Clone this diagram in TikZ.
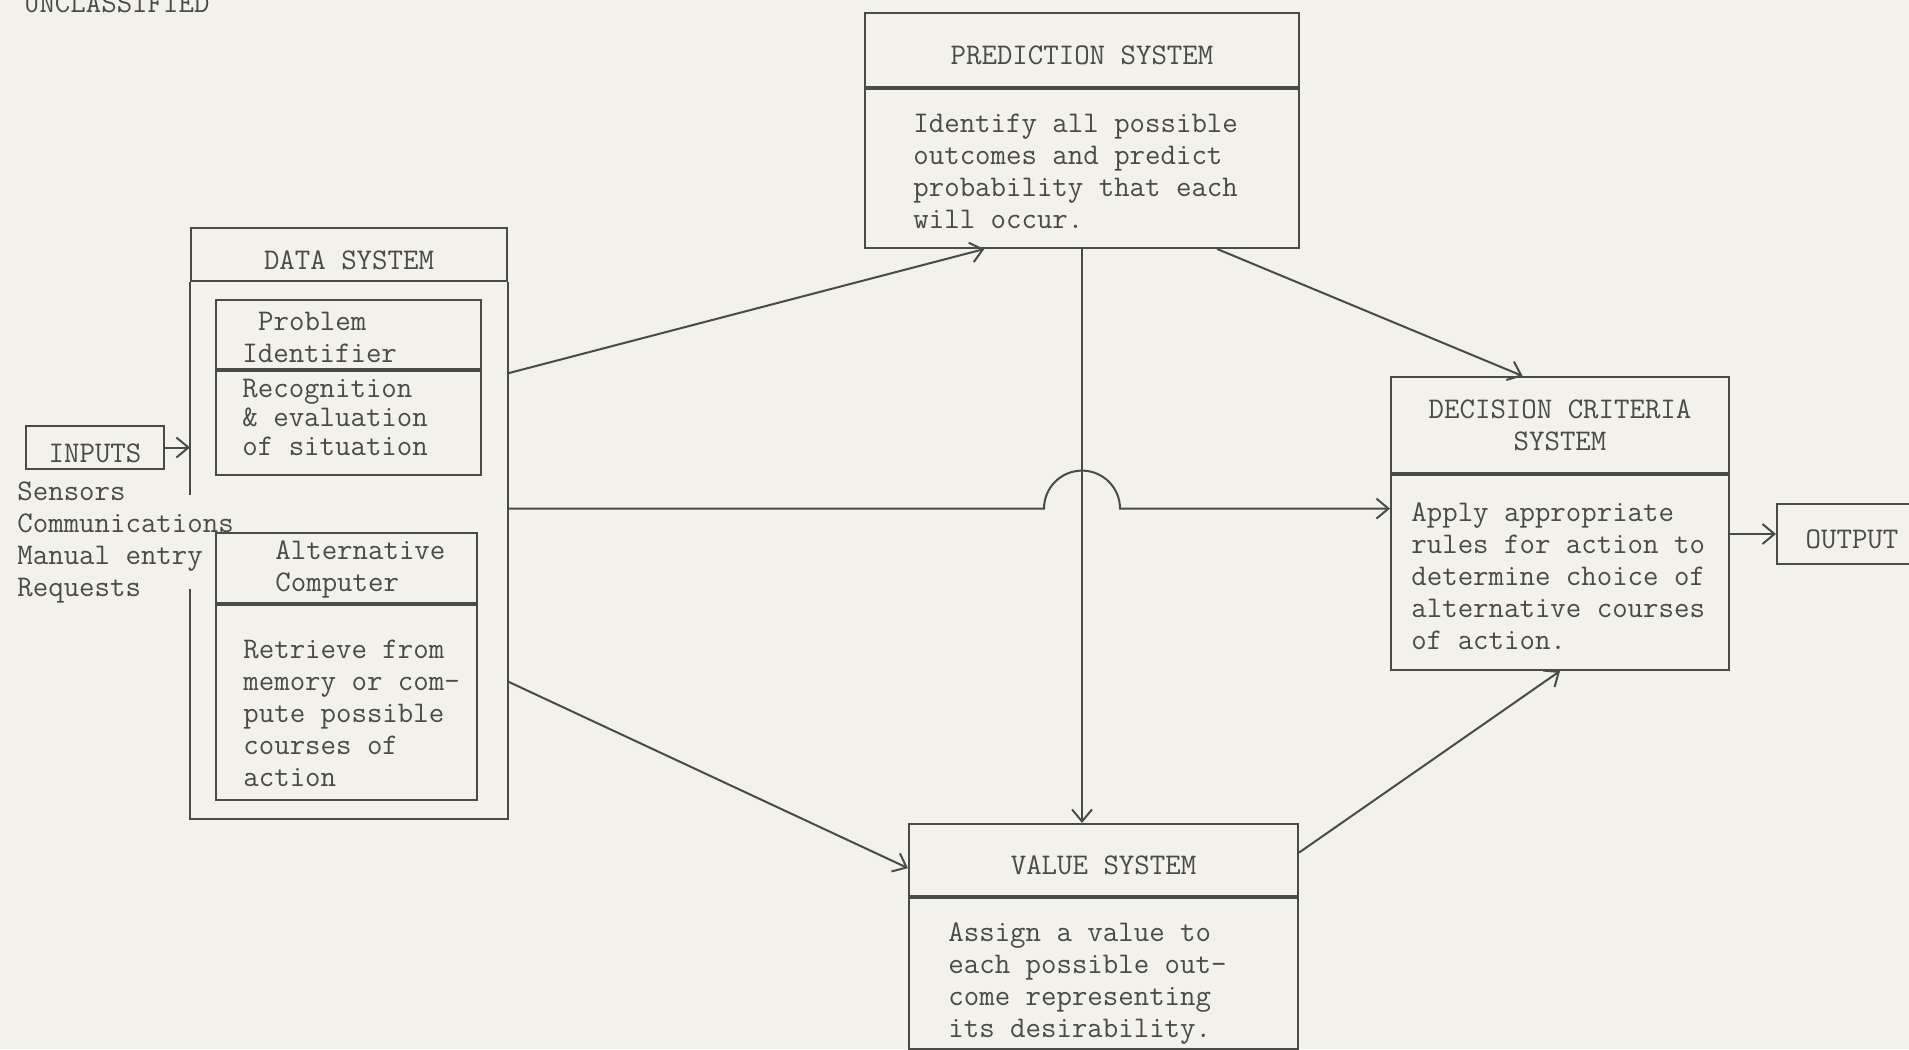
\documentclass[tikz,border=0pt]{standalone}
\usepackage{fontspec}
\usepackage{tikz}
\usetikzlibrary{calc}
\usetikzlibrary{positioning}
\usetikzlibrary{arrows.meta}
\definecolor{ink}{RGB}{74,74,72}
\definecolor{paper}{RGB}{242,241,235}

\begin{document}
\begin{tikzpicture}[x=0.5pt, y=-0.5pt,
    every node/.style={text=ink, font=\ttfamily\fontsize{15}{16}\selectfont},
    sysbox/.style={draw=ink, line width=1pt, rectangle, inner sep=0pt, anchor=north west},
    head/.style={sysbox, text height=15pt},
    txt/.style={align=left, inner sep=0pt},
    conn/.style={draw=ink, line width=1pt},
    >={Straight Barb[length=6pt, width=10pt]}
    ]
    \fill[paper] (0,0) rectangle (1909,1049);
    \useasboundingbox (0,0) rectangle (1909,1049);

    \node[anchor=base west] (mark) at (17,12) {UNCLASSIFIED};

    % inputs
    \node[head, minimum width=69pt, minimum height=21.5pt] (inputs) at (25,425) {INPUTS};
    \node[txt, below right=5.5pt and -4pt of inputs.south west] (sources)
      {Sensors\\Communications\\Manual entry\\Requests};

    % data system
    \node[head, minimum width=158pt, minimum height=26.5pt] (dataT) at (190,227) {DATA SYSTEM};
    \node[sysbox, draw=none, minimum width=158pt, minimum height=267.5pt] (dataO) at (dataT.south west) {};
    \draw[conn] (dataO.north east) -- (dataO.south east) -- (dataO.south west) -- ++(0,-230);
    \draw[conn] (dataO.north west) -- ++(0,213);

    \node[sysbox, minimum width=132.5pt, minimum height=34.5pt] (probT) at (215,299) {};
    \node[txt, below right=6.5pt and 13.5pt of probT.north west] (probX)
      {\hspace*{0.525em}Problem\\Identifier};
    \node[sysbox, minimum width=132.5pt, minimum height=52pt] (probB) at (probT.south west) {};
    \node[txt, font=\ttfamily\fontsize{15}{14.5}\selectfont,
      below right=4.5pt and 13.5pt of probB.north west] (probY)
      {Recognition\\\& evaluation\\of situation};

    \node[sysbox, minimum width=130.5pt, minimum height=35pt] (altT) at (215,532) {};
    \node[txt, below right=4pt and 30pt of altT.north west] (altX) {Alternative\\Computer};
    \node[sysbox, minimum width=130.5pt, minimum height=97.5pt] (altB) at (altT.south west) {};
    \node[txt, below right=18pt and 14pt of altB.north west] (altY)
      {Retrieve from\\memory or com-\\pute possible\\courses of\\action};

    % prediction system
    \node[head, minimum width=217pt, minimum height=37pt] (predT) at (864,12) {PREDICTION SYSTEM};
    \node[sysbox, minimum width=217pt, minimum height=79.5pt] (predB) at (predT.south west) {};
    \node[txt, below right=13pt and 24.5pt of predB.north west] (predX)
      {Identify all possible\\outcomes and predict\\probability that each\\will occur.};

    % decision criteria system
    \node[sysbox, align=center, minimum width=169pt, minimum height=48pt] (decT) at (1390,376)
      {DECISION CRITERIA\\SYSTEM};
    \node[sysbox, minimum width=169pt, minimum height=97.5pt] (decB) at (decT.south west) {};
    \node[txt, below right=14pt and 10.5pt of decB.north west] (decX)
      {Apply appropriate\\rules for action to\\determine choice of\\alternative courses\\of action.};

    % value system
    \node[head, minimum width=194.5pt, minimum height=36pt] (valT) at (908,823) {VALUE SYSTEM};
    \node[sysbox, minimum width=194.5pt, minimum height=75.5pt] (valB) at (valT.south west) {};
    \node[txt, below right=12.5pt and 20pt of valB.north west] (valX)
      {Assign a value to\\each possible out-\\come representing\\its desirability.};

    \node[head, minimum width=75pt, minimum height=30pt] (outp) at (1776,503) {OUTPUT};

    % connectors
    \coordinate (d1) at ($(dataO.north east)!0.170!(dataO.south east)$);
    \coordinate (d2) at ($(dataO.north east)!0.422!(dataO.south east)$);
    \coordinate (d3) at ($(dataO.north east)!0.744!(dataO.south east)$);

    \draw[conn, ->] (inputs.east) -- (inputs.east -| dataO.west);
    \draw[conn, ->] (d1) -- ($(predB.south west)!0.276!(predB.south east)$);
    \draw[conn, ->] (predB.south) -- (predB.south |- valT.north);
    \draw[conn, ->] (d2) -- ($(predB.south |- d2)+(-38,0)$)
      arc[start angle=180, end angle=360, radius=38] -- (decB.west |- d2);
    \draw[conn, ->] ($(predB.south west)!0.81!(predB.south east)$)
      -- ($(decT.north west)!0.39!(decT.north east)$);
    \draw[conn, ->] (d3) -- ($(valT.north west)!0.61!(valT.south west)$);
    \draw[conn, ->] ($(valT.north east)!0.4!(valT.south east)$) -- (decB.south);
    \draw[conn, ->] (outp.west -| decB.east) -- (outp.west);
\end{tikzpicture}
\end{document}
